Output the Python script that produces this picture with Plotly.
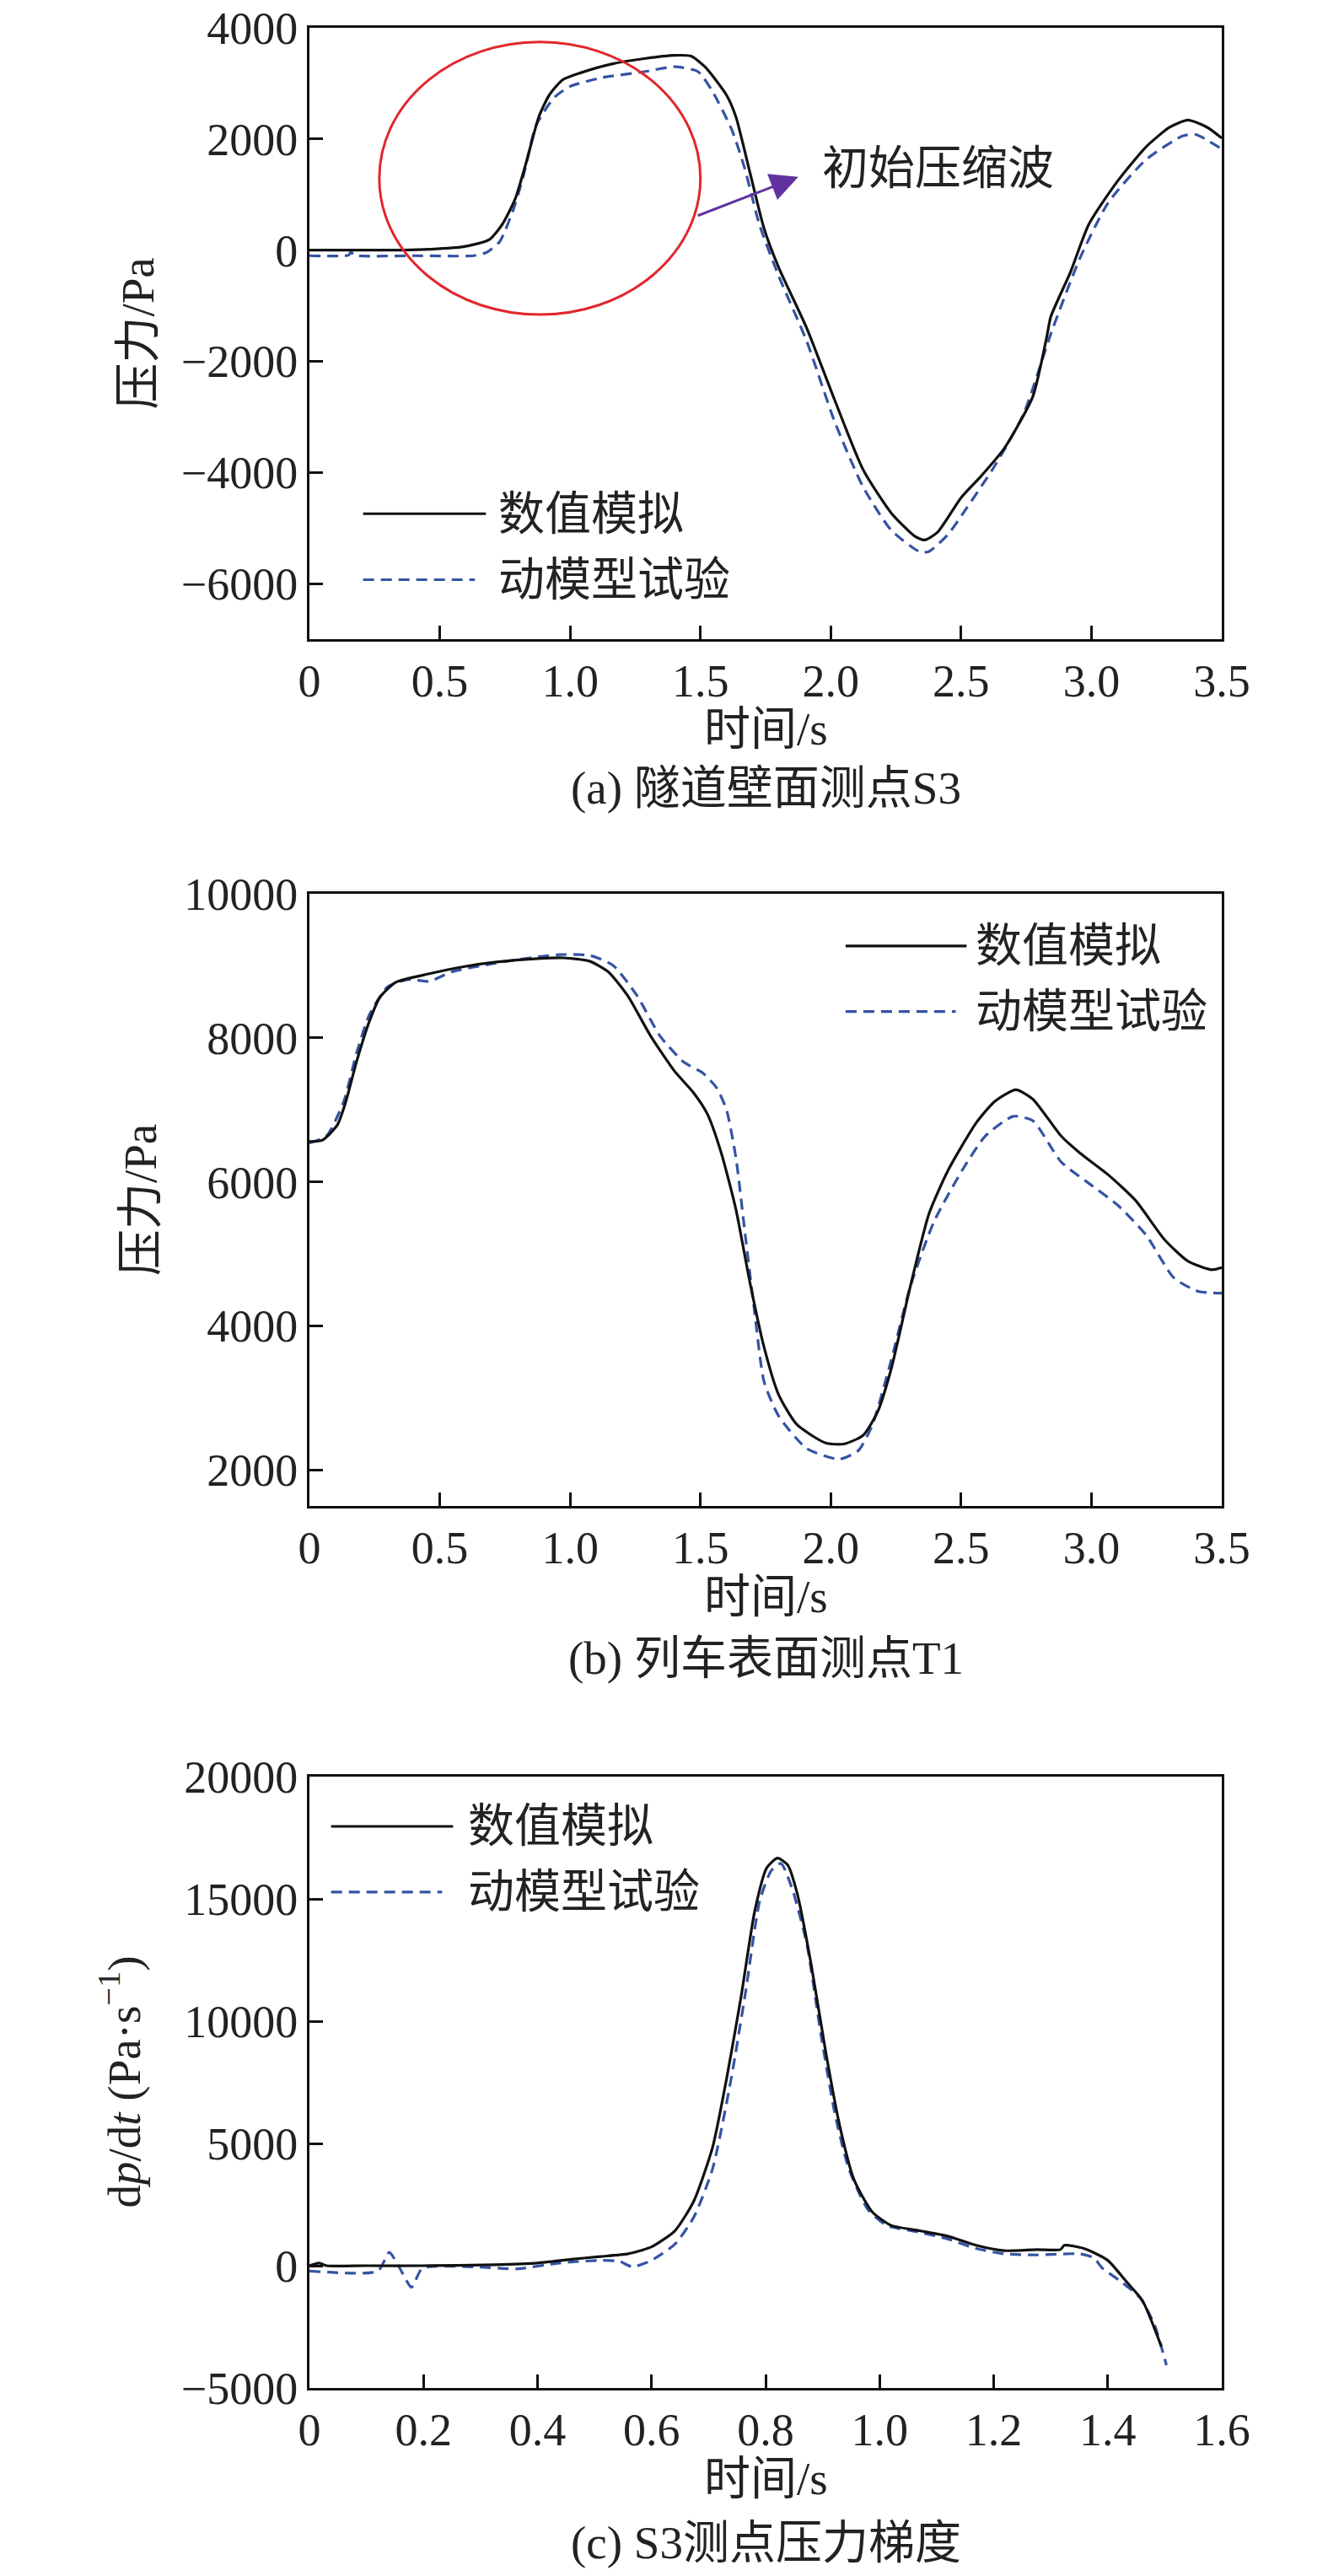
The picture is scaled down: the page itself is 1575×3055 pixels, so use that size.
import plotly.graph_objects as go

# ---------------- data ----------------
# (a) tunnel wall point S3
a_t_sim = [0, 0.2, 0.36, 0.46, 0.59, 0.69, 0.74, 0.79, 0.83, 0.88, 0.92, 0.97, 1.04, 1.16, 1.29, 1.40, 1.464,
           1.518, 1.60, 1.636, 1.69, 1.744, 1.80, 1.907, 2.016, 2.124, 2.232, 2.323, 2.36, 2.41, 2.50, 2.576,
           2.666, 2.775, 2.829, 2.844, 2.92, 2.99, 3.10, 3.21, 3.30, 3.37, 3.444, 3.50]
a_p_sim = [0, 0, 0, 15, 60, 190, 465, 930, 1550, 2400, 2790, 3060, 3190, 3350, 3450, 3505, 3490,
           3295, 2790, 2400, 1395, 390, -310, -1395, -2710, -3950, -4730, -5150, -5215, -5075, -4455, -4070,
           -3565, -2635, -1550, -1200, -390, 465, 1240, 1860, 2210, 2340, 2210, 2015]
a_t_exp = [0, 0.15, 0.16, 0.17, 0.4, 0.63, 0.68, 0.73, 0.78, 0.82, 0.87, 0.94, 1.0, 1.12, 1.29, 1.40, 1.49,
           1.545, 1.62, 1.67, 1.726, 1.80, 1.907, 2.016, 2.124, 2.232, 2.34, 2.376, 2.45, 2.52, 2.63, 2.74,
           2.847, 2.955, 3.064, 3.21, 3.35, 3.40, 3.50]
a_p_exp = [-100, -90, -30, -90, -100, -100, -40, 155, 700, 1320, 2250, 2750, 2945, 3100, 3215, 3300, 3215,
           2865, 2170, 1470, 465, -465, -1630, -3100, -4260, -5040, -5425, -5425, -5115, -4650, -3875, -2945,
           -1470, -155, 850, 1630, 2055, 2080, 1820]

# (b) train surface point T1
b_t_sim = [0, 0.05, 0.107, 0.14, 0.18, 0.23, 0.27, 0.33, 0.46, 0.595, 0.71, 0.876, 0.975, 1.074, 1.147,
           1.22, 1.31, 1.40, 1.473, 1.527, 1.58, 1.636, 1.69, 1.744, 1.80, 1.87, 1.98, 2.05, 2.124, 2.18,
           2.232, 2.305, 2.377, 2.45, 2.558, 2.63, 2.71, 2.775, 2.883, 2.956, 3.064, 3.17, 3.28, 3.37, 3.46, 3.50]
b_p_sim = [6560, 6580, 6790, 7120, 7660, 8230, 8560, 8770, 8890, 8990, 9050, 9100, 9110, 9065, 8915,
           8590, 8020, 7540, 7240, 6940, 6400, 5620, 4600, 3705, 3045, 2630, 2375, 2360, 2480, 2810,
           3405, 4545, 5560, 6160, 6820, 7120, 7280, 7150, 6640, 6400, 6100, 5740, 5200, 4900, 4780, 4810]
b_t_exp = [0, 0.066, 0.132, 0.18, 0.23, 0.30, 0.38, 0.46, 0.545, 0.71, 0.876, 0.96, 1.075, 1.165, 1.256,
           1.346, 1.437, 1.51, 1.563, 1.60, 1.636, 1.67, 1.71, 1.744, 1.80, 1.907, 2.033, 2.106, 2.16, 2.232,
           2.305, 2.395, 2.504, 2.594, 2.70, 2.775, 2.883, 2.99, 3.10, 3.21, 3.317, 3.41, 3.50]
b_p_exp = [6540, 6640, 7120, 7780, 8320, 8710, 8810, 8785, 8915, 9035, 9125, 9155, 9145, 9005, 8590,
           8020, 7660, 7510, 7300, 7000, 6340, 5320, 4125, 3225, 2750, 2300, 2150, 2270, 2630, 3525,
           4545, 5440, 6160, 6640, 6910, 6850, 6280, 5980, 5680, 5260, 4665, 4480, 4455]

# (c) pressure gradient at S3
c_t_sim = [0, 0.008, 0.017, 0.03, 0.1, 0.2, 0.325, 0.4, 0.46, 0.51, 0.559, 0.6, 0.641, 0.674, 0.707, 0.732,
           0.757, 0.781, 0.802, 0.821, 0.839, 0.856, 0.88, 0.905, 0.93, 0.955, 0.987, 1.02, 1.07, 1.119,
           1.169, 1.218, 1.276, 1.317, 1.324, 1.358, 1.4, 1.433, 1.461, 1.494]
c_g_sim = [0, 60, 110, 0, 0, 0, 40, 110, 265, 375, 485, 770, 1430, 2640, 4840, 7700,
           11000, 14510, 16270, 16670, 16380, 15170, 12310, 8800, 5720, 3520, 2200, 1650, 1430, 1210,
           835, 615, 660, 660, 835, 705, 220, -660, -1430, -3300]
c_t_exp = [0, 0.12, 0.14, 0.156, 0.179, 0.198, 0.288, 0.363, 0.438, 0.513, 0.544, 0.566, 0.6, 0.641, 0.674,
           0.707, 0.74, 0.765, 0.79, 0.81, 0.827, 0.847, 0.872, 0.897, 0.922, 0.946, 0.979, 1.012, 1.07,
           1.119, 1.169, 1.218, 1.276, 1.35, 1.375, 1.391, 1.424, 1.457, 1.482, 1.503]
c_g_exp = [-220, -220, 550, 0, -880, -110, -45, -130, 110, 220, 175, -45, 220, 880, 1980,
           3960, 7700, 11210, 14950, 16160, 16450, 15390, 13190, 9460, 6160, 3960, 2310, 1650, 1365,
           1100, 705, 485, 440, 485, 330, -110, -660, -1320, -2420, -4070]

series_names = ["数值模拟", "动模型试验"]
ticks_ab = [0, 0.5, 1.0, 1.5, 2.0, 2.5, 3.0, 3.5]
ticktext_ab = ["0", "0.5", "1.0", "1.5", "2.0", "2.5", "3.0", "3.5"]
ticks_c = [0, 0.2, 0.4, 0.6, 0.8, 1.0, 1.2, 1.4, 1.6]
ticktext_c = ["0", "0.2", "0.4", "0.6", "0.8", "1.0", "1.2", "1.4", "1.6"]
captions = ["(a) 隧道壁面测点S3", "(b) 列车表面测点T1", "(c) S3测点压力梯度"]
xtitle = "时间/s"
ytitles = ["压力/Pa", "压力/Pa", "d<i>p</i>/d<i>t</i> (Pa·s<sup>−1</sup>)"]
annot_text = "初始压缩波"

# ---------------- styling ----------------
W, H = 1575, 3055
FONT = "Liberation Serif, 'Times New Roman', 'Noto Sans CJK SC', serif"
BLACK = "#111111"
BLUE = "#3553a3"
RED = "#e2262c"
PURPLE = "#6233a0"
TXT = "#222222"
FS_TICK = 54
FS_TXT = 55

def px(xpix):
    return xpix / W

def py(ypix):
    return 1 - ypix / H

X_L, X_R = 367, 1449
panels_y = [(33, 758), (1060, 1786), (2107, 2832)]
xdom = [px(X_L), px(X_R)]
ydoms = [[py(b), py(t)] for t, b in panels_y]

fig = go.Figure()
data = [(a_t_sim, a_p_sim, a_t_exp, a_p_exp), (b_t_sim, b_p_sim, b_t_exp, b_p_exp),
        (c_t_sim, c_g_sim, c_t_exp, c_g_exp)]
for i, (ts, ps, te, pe) in enumerate(data):
    xa = "x" if i == 0 else f"x{i+1}"
    ya = "y" if i == 0 else f"y{i+1}"
    fig.add_trace(go.Scatter(x=te, y=pe, mode="lines", name=series_names[1], xaxis=xa, yaxis=ya,
                             line=dict(color=BLUE, width=3.2, dash="13px,8px", shape="spline", smoothing=0.6)))
    fig.add_trace(go.Scatter(x=ts, y=ps, mode="lines", name=series_names[0], xaxis=xa, yaxis=ya,
                             line=dict(color=BLACK, width=3.2, shape="spline", smoothing=0.6)))

axis_common = dict(showline=True, linecolor=BLACK, linewidth=3, mirror=True, ticks="inside", ticklen=16,
                   tickwidth=3, tickcolor=BLACK, showgrid=False, zeroline=False, automargin=False,
                   ticklabeloverflow="allow",
                   tickfont=dict(family=FONT, size=FS_TICK, color=TXT))

yranges = [[-7000, 4000], [1500, 10000], [-5000, 20000]]
ydticks = [2000, 2000, 5000]
layout = dict(width=W, height=H, margin=dict(l=0, r=0, t=0, b=0, autoexpand=False), paper_bgcolor="white",
              plot_bgcolor="white", showlegend=False, font=dict(family=FONT, size=FS_TXT, color=TXT))
for i in range(3):
    xk = "xaxis" if i == 0 else f"xaxis{i+1}"
    yk = "yaxis" if i == 0 else f"yaxis{i+1}"
    ya = "y" if i == 0 else f"y{i+1}"
    xa = "x" if i == 0 else f"x{i+1}"
    if i < 2:
        tv, tt, xr = ticks_ab, ticktext_ab, [0, 3.5]
    else:
        tv, tt, xr = ticks_c, ticktext_c, [0, 1.6]
    layout[xk] = dict(axis_common, domain=xdom, range=xr, tickvals=tv, ticktext=tt, anchor=ya)
    layout[yk] = dict(axis_common, domain=ydoms[i], range=yranges[i], dtick=ydticks[i], anchor=xa,
                      tickformat="d")
fig.update_layout(**layout)

shapes = []
annotations = []
# legends (manual, long sample lines as in the reference)
leg = [("x", "y", 0.206, 0.677, 0.718, -4743, -5930),
       ("x2", "y2", 2.057, 2.521, 2.549, 9276, 8365),
       ("x3", "y3", 0.038, 0.252, 0.275, 17966, 15283)]
for xa, ya, x0, x1, xt, y1, y2 in leg:
    shapes.append(dict(type="line", xref=xa, yref=ya, x0=x0, x1=x1, y0=y1, y1=y1,
                       line=dict(color=BLACK, width=3.2)))
    shapes.append(dict(type="line", xref=xa, yref=ya, x0=x0, x1=x1 - 0.09 * (x1 - x0), y0=y2, y1=y2,
                       line=dict(color=BLUE, width=3.2, dash="13px,8px")))
    annotations.append(dict(xref=xa, yref=ya, x=xt, y=y1, text=series_names[0], showarrow=False,
                            xanchor="left", yanchor="middle", font=dict(family=FONT, size=FS_TXT, color=TXT)))
    annotations.append(dict(xref=xa, yref=ya, x=xt, y=y2, text=series_names[1], showarrow=False,
                            xanchor="left", yanchor="middle", font=dict(family=FONT, size=FS_TXT, color=TXT)))

# red ellipse in (a)
shapes.append(dict(type="circle", xref="x", yref="y", x0=0.268, x1=1.5, y0=-1160, y1=3745,
                   line=dict(color=RED, width=3)))
# label with arrow from the ellipse towards the text
annotations.append(dict(xref="x", yref="y", axref="x", ayref="y", x=1.49, y=620, ax=1.96, ay=1470,
                        text=annot_text, showarrow=True, arrowhead=0, arrowside="start",
                        startarrowhead=2, startarrowsize=2.2, arrowwidth=3, arrowcolor=PURPLE,
                        startstandoff=28, xanchor="left", yanchor="middle",
                        font=dict(family=FONT, size=FS_TXT, color=TXT)))

# axis titles and captions
xc = (X_L + X_R) / 2
ytitle_x = [163, 166, 143]
for i, ((t, b), cap_y) in enumerate(zip(panels_y, [935, 1967, 3015])):
    annotations.append(dict(xref="paper", yref="paper", x=px(xc), y=py(b + 107), text=xtitle,
                            showarrow=False, xanchor="center", yanchor="middle",
                            font=dict(family=FONT, size=FS_TXT, color=TXT)))
    annotations.append(dict(xref="paper", yref="paper", x=px(ytitle_x[i]), y=py((t + b) / 2), text=ytitles[i],
                            textangle=-90, showarrow=False, xanchor="center", yanchor="middle",
                            font=dict(family=FONT, size=FS_TXT, color=TXT)))
    annotations.append(dict(xref="paper", yref="paper", x=px(xc), y=py(cap_y), text=captions[i],
                            showarrow=False, xanchor="center", yanchor="middle",
                            font=dict(family=FONT, size=FS_TXT, color=TXT)))

fig.update_layout(shapes=shapes, annotations=annotations)
# remove the default page margin so the figure fills the window exactly; hide the modebar
fig.write_html("out.html", config={"displayModeBar": False},
               post_script="document.body.style.margin='0';document.body.style.overflow='hidden';")
